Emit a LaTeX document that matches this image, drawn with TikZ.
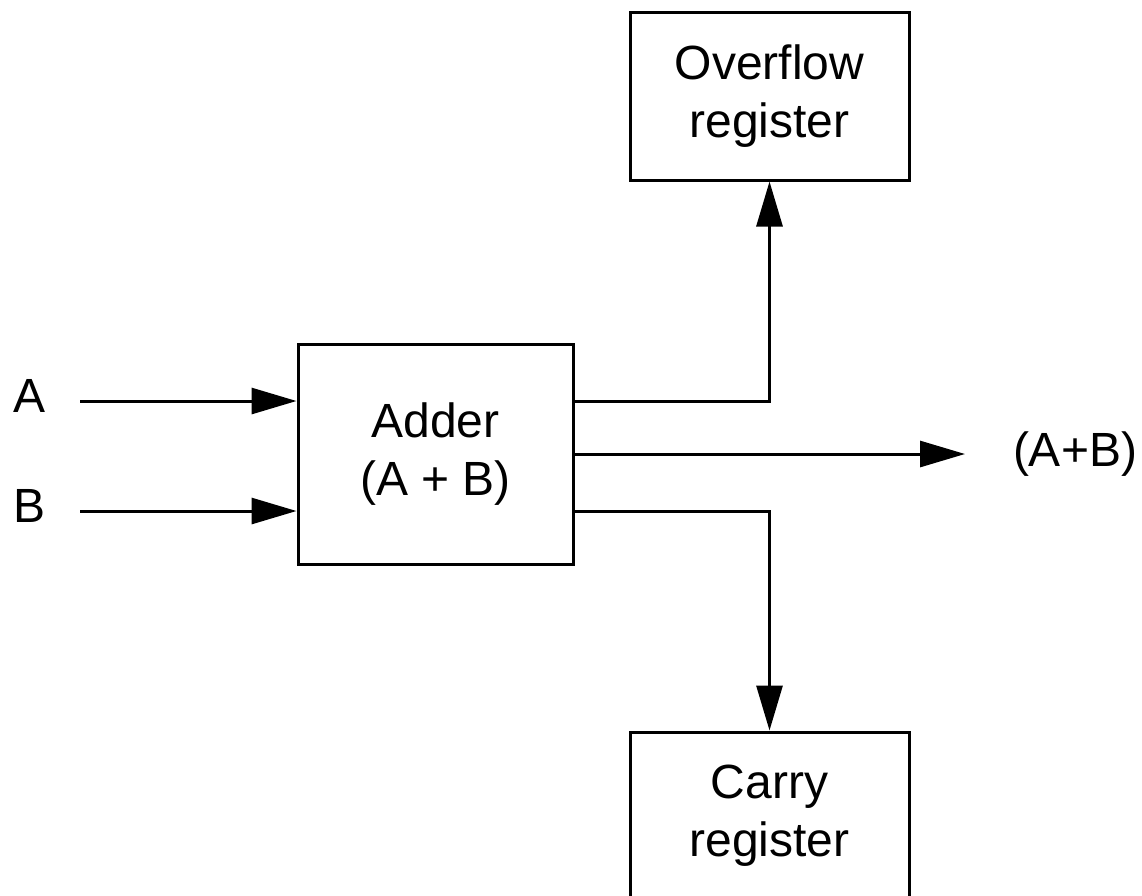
\documentclass[tikz,border=0pt]{standalone}
\usepackage{fontspec}
\setmainfont{Liberation Sans}
\usetikzlibrary{arrows.meta}
\begin{document}
\begin{tikzpicture}[x=1pt,y=-1pt,
  every node/.style={font=\fontsize{48}{58}\selectfont, align=center},
  block/.style={draw, line width=3pt, inner sep=0pt},
  wire/.style={line width=3pt},
  arr/.style={wire, -{Triangle[length=45pt 0,width=26pt 0]}}]
  \useasboundingbox (0,0) rectangle (1142,895);
  \clip (0,0) rectangle (1142,895);
  % blocks
  \node[block, minimum width=275pt, minimum height=220pt] (adder) at (435.5,454) {Adder\\(A + B)};
  \node[block, minimum width=279pt, minimum height=168pt] (ovf) at (769.5,96) {Overflow\\register};
  \node[block, minimum width=279pt, minimum height=168pt] (carry) at (769.5,816) {Carry\\register};
  % inputs
  \node[anchor=base] (la) at (30,412) {A};
  \node[anchor=base] (lb) at (30,522) {B};
  \coordinate (ain) at (80,401);
  \coordinate (bin) at (80,511);
  \draw[arr] (ain) -- (ain -| adder.west);
  \draw[arr] (bin) -- (bin -| adder.west);
  % outputs
  \coordinate (oout) at (adder.east |- ain);
  \coordinate (cout) at (adder.east |- bin);
  \coordinate (sumtip) at (965,454);
  \node (lsum) at (1075,454) {(A+B)};
  \draw[arr] (oout) -| (ovf.south);
  \draw[arr] (adder.east) -- (sumtip);
  \draw[arr] (cout) -| (carry.north);
\end{tikzpicture}
\end{document}
